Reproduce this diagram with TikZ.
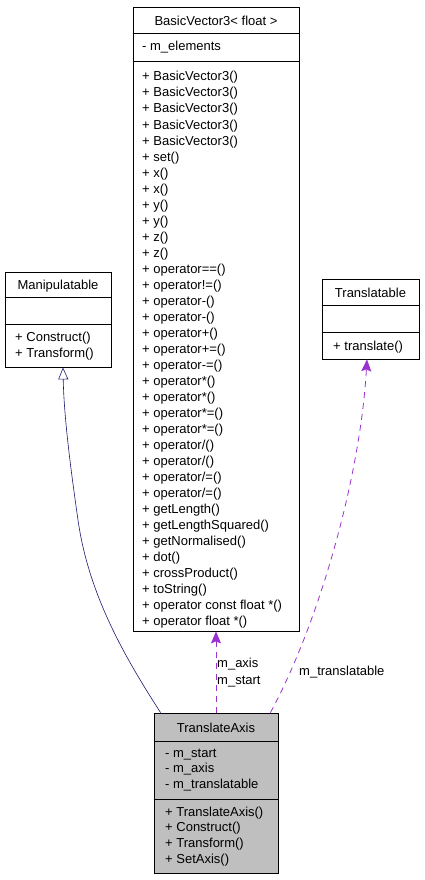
\documentclass[tikz,border=0pt]{standalone}
\usepackage{fontspec}
\setmainfont{Liberation Sans}
\usetikzlibrary{arrows.meta}
\definecolor{inheritblue}{HTML}{191970}
\definecolor{usepurple}{HTML}{9A32CD}
\definecolor{classgray}{HTML}{BFBFBF}

\begin{document}
\begin{tikzpicture}[
		x=1pt, y=-1pt,
		every node/.style={inner sep=0pt, font=\fontsize{13}{16}\selectfont},
		classbox/.style={rectangle, draw, line width=0.8pt},
		title/.style={anchor=base},
		member/.style={anchor=base west},
		inherit/.style={draw=inheritblue, line width=0.6pt, -{Triangle[open, length=12pt, width=10pt]}},
		uses/.style={draw=usepurple, line width=0.8pt, dash pattern=on 6pt off 5pt, -{Stealth[length=12pt, width=10pt, inset=2pt]}}
	]
  \useasboundingbox (0,0) rectangle (424,880);
  % BasicVector3< float >
  \node (bv) [classbox, minimum width=166pt, minimum height=624pt] at (216, 319) {};
  \draw [line width=0.8pt] (bv.west |- 0,33) -- (bv.east |- 0,33);
  \draw [line width=0.8pt] (bv.west |- 0,61) -- (bv.east |- 0,61);
  \node (bv_title) [title] at (216, 26) {BasicVector3< float >};
  \node (bv_elements) [member] at (142, 51) {- m\_elements};
  \foreach \op [count=\i from 0] in {BasicVector3(), BasicVector3(), BasicVector3(), BasicVector3(), BasicVector3(),
      set(), x(), x(), y(), y(), z(), z(), operator==(), operator!=(), operator-(), operator-(),
      operator+(), operator+=(), operator-=(), operator*(), operator*(), operator*=(), operator*=(),
      operator/(), operator/(), operator/=(), operator/=(), getLength(), getLengthSquared(),
      getNormalised(), dot(), crossProduct(), toString(), operator const float *(), operator float *()}
    \node (bv_op\i) [member] at (142, 81+16*\i) {+ \op};

  % Manipulatable
  \node (manip) [classbox, minimum width=106pt, minimum height=95pt] at (58, 319.5) {};
  \draw [line width=0.8pt] (manip.west |- 0,297) -- (manip.east |- 0,297);
  \draw [line width=0.8pt] (manip.west |- 0,324) -- (manip.east |- 0,324);
  \node (manip_title) [title] at (58, 289) {Manipulatable};
  \node (manip_construct) [member] at (15, 341) {+ Construct()};
  \node (manip_transform) [member] at (15, 357) {+ Transform()};

  % Translatable
  \node (transl) [classbox, minimum width=97pt, minimum height=80pt] at (370.5, 319) {};
  \draw [line width=0.8pt] (transl.west |- 0,305) -- (transl.east |- 0,305);
  \draw [line width=0.8pt] (transl.west |- 0,332) -- (transl.east |- 0,332);
  \node (transl_title) [title] at (370.5, 297) {Translatable};
  \node (transl_translate) [member] at (333, 350) {+ translate()};

  % TranslateAxis
  \node (axis) [classbox, fill=classgray, minimum width=124pt, minimum height=160pt] at (216, 793) {};
  \draw [line width=0.8pt] (axis.west |- 0,741) -- (axis.east |- 0,741);
  \draw [line width=0.8pt] (axis.west |- 0,799) -- (axis.east |- 0,799);
  \node (axis_title) [title] at (216, 732) {TranslateAxis};
  \node (axis_start) [member] at (165, 757) {- m\_start};
  \node (axis_axis) [member] at (165, 772.7) {- m\_axis};
  \node (axis_transl) [member] at (165, 788.4) {- m\_translatable};
  \node (axis_ctor) [member] at (165, 816) {+ TranslateAxis()};
  \node (axis_construct) [member] at (165, 831.7) {+ Construct()};
  \node (axis_transform) [member] at (165, 847.4) {+ Transform()};
  \node (axis_set) [member] at (165, 863) {+ SetAxis()};

  % edges
  \draw [inherit] ([xshift=7pt]axis.north west) .. controls (120, 650) and (88, 590) .. (78, 520)
    .. controls (72, 478) and (64, 420) .. ([xshift=5pt]manip.south);
  \draw [uses] (axis.north) -- (bv.south);
  \node (lbl_axis) [member] at (217, 667) {m\_axis};
  \node (lbl_start) [member] at (217, 684) {m\_start};
  \draw [uses] ([xshift=-8pt]axis.north east) .. controls (318, 625) and (360, 480) .. ([xshift=-3.5pt]transl.south);
  \node (lbl_transl) [member] at (299, 675) {m\_translatable};
\end{tikzpicture}
\end{document}
